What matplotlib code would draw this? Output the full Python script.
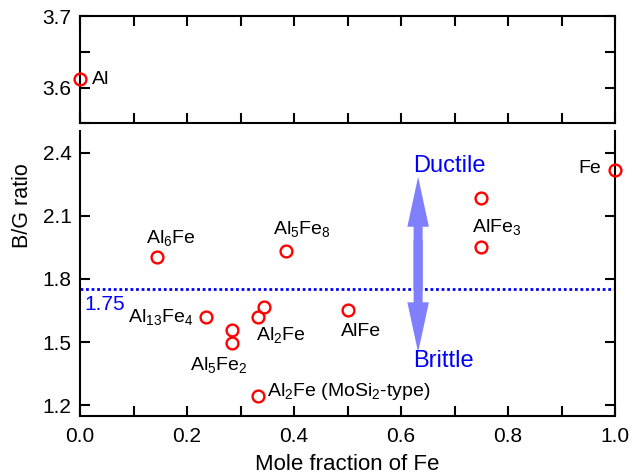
import matplotlib
matplotlib.use('Agg')
from matplotlib import pyplot as plt
from matplotlib.ticker import MultipleLocator

plt.rcParams['font.family'] = ['Liberation Sans', 'DejaVu Sans']
plt.rcParams['mathtext.default'] = 'regular'

# data: mole fraction of Fe and B/G ratio
al_x = [0.0]
al_bg = [3.612]

fe_x = [0.143, 0.235, 0.285, 0.285, 0.333, 0.343, 0.333, 0.385, 0.500, 0.750, 0.750, 1.000]
fe_bg = [1.903, 1.621, 1.555, 1.495, 1.621, 1.664, 1.245, 1.934, 1.653, 2.185, 1.950, 2.317]

names = ['Al', r'Al$_6$Fe', r'Al$_{13}$Fe$_4$', r'Al$_5$Fe$_2$', r'Al$_2$Fe',
         r'Al$_2$Fe (MoSi$_2$-type)', r'Al$_5$Fe$_8$', 'AlFe', r'AlFe$_3$', 'Fe']
critical = 1.75

fig = plt.figure(figsize=(6.32, 4.74), dpi=100)
ax1 = fig.add_axes([0.1266, 0.7395, 0.8465, 0.2267])
ax2 = fig.add_axes([0.1266, 0.1230, 0.8465, 0.5996])

red = '#ff0000'
for ax in (ax1, ax2):
    ax.set_xlim(0, 1.0)
    ax.xaxis.set_major_locator(MultipleLocator(0.2))
    ax.xaxis.set_minor_locator(MultipleLocator(0.1))
    for s in ax.spines.values():
        s.set_linewidth(1.5)
    ax.tick_params(which='both', direction='in', length=7, width=1.5,
                   labelsize=15, right=True, pad=6)

# 上面的小图
ax1.plot(al_x, al_bg, 'o', mfc='none', mec=red, ms=8.5, mew=1.7, clip_on=False, zorder=5)
ax1.set_ylim(3.55, 3.7)
ax1.yaxis.set_major_locator(MultipleLocator(0.1))
ax1.yaxis.set_minor_locator(MultipleLocator(0.05))
ax1.tick_params(which='both', top=True, labelbottom=False)
ax1.text(0.022, 3.612, names[0], fontsize=14, ha='left', va='center')

# 下面的主图
ax2.plot(fe_x, fe_bg, 'o', mfc='none', mec=red, ms=8.5, mew=1.7, clip_on=False, zorder=5)
ax2.set_ylim(1.15, 2.5)
ax2.yaxis.set_major_locator(MultipleLocator(0.3))
ax2.spines['top'].set_visible(False)
ax2.tick_params(which='both', top=False)
ax2.tick_params(axis='x', pad=8)

ax2.axhline(critical, color='#0000ff', lw=2, linestyle=(0, (1, 1)))
ax2.text(0.009, 1.653, '%.2f' % critical, color='#0000ff', fontsize=15)

lab = dict(fontsize=14, va='baseline')
ax2.text(0.123, 1.969, names[1], ha='left', **lab)
ax2.text(0.212, 1.593, names[2], ha='right', **lab)
ax2.text(0.206, 1.368, names[3], ha='left', **lab)
ax2.text(0.329, 1.511, names[4], ha='left', **lab)
ax2.text(0.350, 1.245, names[5], ha='left', **lab)
ax2.text(0.361, 2.013, names[6], ha='left', **lab)
ax2.text(0.487, 1.530, names[7], ha='left', **lab)
ax2.text(0.733, 2.024, names[8], ha='left', **lab)
ax2.text(0.975, 2.301, names[9], ha='right', **lab)

# 双向箭头 (两段重叠, 避免中间接缝)
top_tip, bot_tip = 2.285, 1.451
for tip, start in ((top_tip, bot_tip + 0.3), (bot_tip, top_tip - 0.3)):
    ax2.annotate('', xy=(0.632, tip), xytext=(0.632, start),
                 arrowprops=dict(arrowstyle='simple,head_length=36,head_width=15.5,tail_width=6.5',
                                 mutation_scale=1, color='#8080ff', lw=0,
                                 shrinkA=0, shrinkB=0))
ax2.text(0.622, 2.309, 'Ductile', color='#0000ff', fontsize=17, va='baseline')
ax2.text(0.622, 1.381, 'Brittle', color='#0000ff', fontsize=17, va='baseline')

ax2.set_xlabel('Mole fraction of Fe', fontsize=16, labelpad=6)
ax2.set_ylabel('B/G ratio', fontsize=15.5)
ax2.yaxis.set_label_coords(-0.088, 0.74)

fig.savefig('out.png', dpi=100)
